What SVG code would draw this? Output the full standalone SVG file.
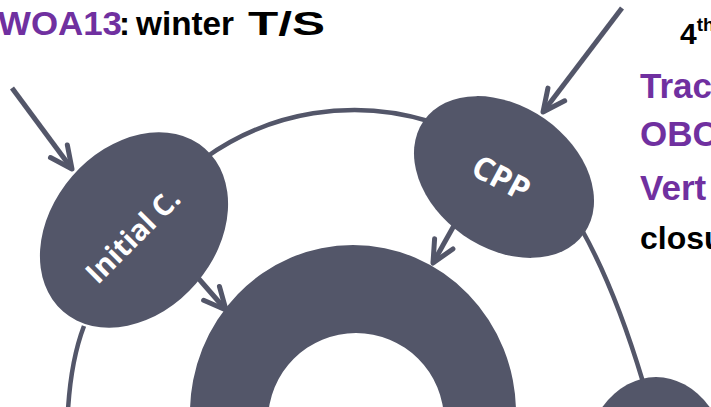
<svg xmlns="http://www.w3.org/2000/svg" width="711" height="407" viewBox="0 0 711 407">
<defs>
<style>
.n{fill:#535669}
.c{fill:none;stroke:#535669;stroke-width:4.5}
.a{fill:none;stroke:#535669;stroke-width:5;stroke-linecap:butt}
.lbl{fill:#ffffff;font-family:"Open Sans","Liberation Sans",sans-serif;font-weight:bold;font-size:29px}
.t{font-family:"Liberation Sans",Arial,sans-serif;font-weight:bold;font-size:33px;fill:#000000}
.s{font-size:35px}
.p{fill:#7030A0}
</style>
<marker id="arr" markerUnits="userSpaceOnUse" markerWidth="60" markerHeight="60" refX="0" refY="0" viewBox="-30 -30 60 60" orient="auto" overflow="visible">
<path d="M-22,-10.5 L0,0 L-22,10.5" fill="none" stroke="#535669" stroke-width="5" stroke-linecap="round" stroke-linejoin="round"/>
</marker>
</defs>
<rect width="711" height="407" fill="#ffffff"/>
<g id="connectors">
<path class="c" d="M205,158 A256,256 0 0,1 430,121.5"/>
<path class="c" d="M582,230 Q615,289 643,382"/>
<path class="c" d="M84,326 Q71,360 68,410"/>
<path class="a" d="M12,88 L72,169" marker-end="url(#arr)"/>
<path class="a" d="M185,263 L226,310" marker-end="url(#arr)"/>
<path class="a" d="M622,8 L543,112" marker-end="url(#arr)"/>
<path class="a" d="M456,222 L433,263" marker-end="url(#arr)"/>
</g>
<g id="initial-c">
<ellipse class="n" cx="134" cy="230" rx="108" ry="82" transform="rotate(-49 134 230)"/>
<text class="lbl" text-anchor="middle" transform="translate(140,243) rotate(-45)">Initial C.</text>
</g>
<g id="cpp">
<ellipse class="n" cx="504" cy="177" rx="98" ry="71" transform="rotate(35 504 177)"/>
<text class="lbl" text-anchor="middle" transform="translate(496,188) rotate(28)" style="font-size:32px">CPP</text>
</g>
<g id="core">
<path class="n" fill-rule="evenodd" d="M190,413 a163,168 0 1,0 326,0 a163,168 0 1,0 -326,0 Z M268,421 a88,88 0 1,0 176,0 a88,88 0 1,0 -176,0 Z"/>
</g>
<g id="node-right">
<ellipse class="n" cx="656" cy="477" rx="75" ry="100"/>
</g>
<g id="title">
<text class="t p" x="-2" y="35" textLength="124" lengthAdjust="spacingAndGlyphs">WOA13</text>
<text class="t" x="119" y="35">:</text>
<text class="t" x="136" y="35" textLength="98" lengthAdjust="spacingAndGlyphs">winter</text>
<text class="t" x="248" y="35" textLength="77" lengthAdjust="spacingAndGlyphs">T/S</text>
</g>
<g id="side-text">
<text class="t" x="680" y="44" style="font-size:30px">4<tspan dy="-13" style="font-size:19px">th</tspan></text>
<text class="t p s" x="640" y="98">Trac</text>
<text class="t p s" x="640" y="146">OBC</text>
<text class="t p s" x="640" y="200">Vert</text>
<text class="t" x="640" y="249" style="font-size:32px">closu</text>
</g>
</svg>
